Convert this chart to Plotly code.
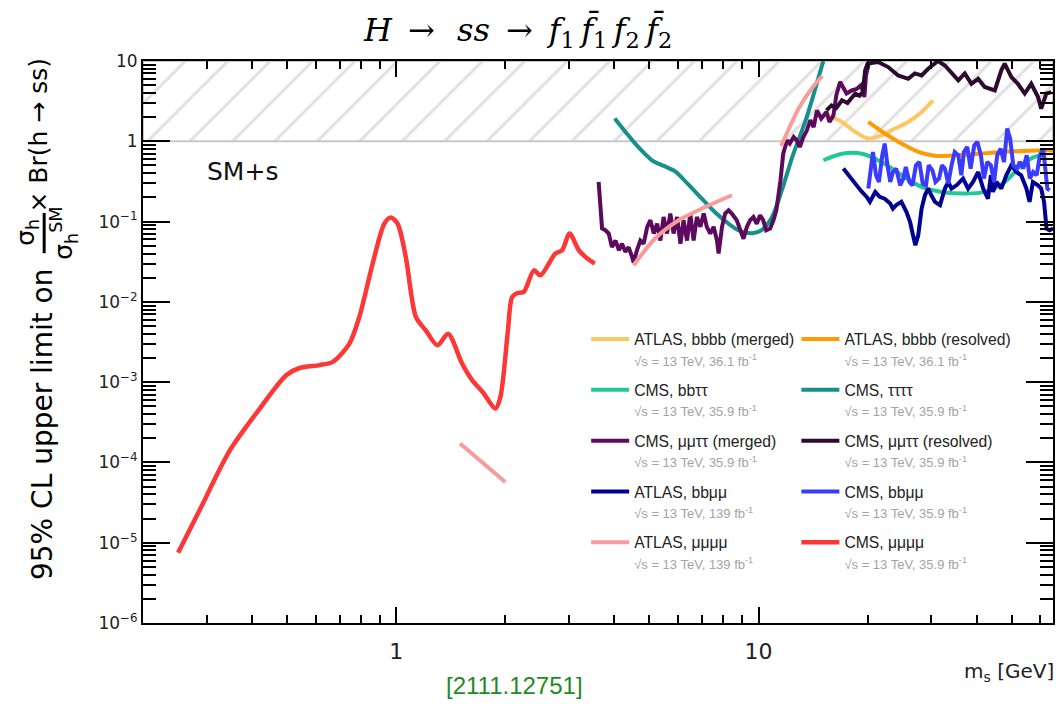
import plotly.graph_objects as go

# ---------------- 95% CL upper limits on sigma_h/sigma_h^SM x Br(h->ss) vs m_s [GeV] ----------------

# CMS, mu mu mu mu (35.9 fb^-1)
cms_4mu_m = [0.25, 0.286, 0.347, 0.411, 0.497, 0.541, 0.614, 0.668, 0.742, 0.791, 0.861, 0.927,
             0.967, 1.009, 1.063, 1.133, 1.207, 1.30, 1.39, 1.52, 1.62, 1.73, 1.88, 1.94, 2.03, 2.09,
             2.16, 2.25, 2.40, 2.50, 2.75, 2.87, 3.01, 3.19, 3.37, 3.53]
cms_4mu_v = [7.5e-6, 2.5e-5, 1.4e-4, 4.1e-4, 1.22e-3, 1.5e-3, 1.63e-3, 1.79e-3, 3.0e-3, 6.5e-3,
             0.030, 0.094, 0.112, 0.094, 0.036, 6.5e-3, 4.4e-3, 2.88e-3, 4.0e-3, 1.7e-3, 1.06e-3,
             7.6e-4, 4.7e-4, 6.6e-4, 4.0e-3, 0.0115, 0.0129, 0.0133, 0.0247, 0.0214, 0.040, 0.044,
             0.071, 0.044, 0.0346, 0.030]

# ATLAS, mu mu mu mu (139 fb^-1) -- three separate mass windows
atlas_4mu_m = [1.50, 2.00, None, 4.52, 5.19, 6.02, 7.13, 8.44, None, 11.55, 12.9, 14.0, 15.0]
atlas_4mu_v = [1.72e-4, 5.7e-5, None, 0.0286, 0.062, 0.104, 0.152, 0.213, None, 0.875, 2.55, 4.5, 6.5]

# CMS, tau tau tau tau (35.9 fb^-1)
cms_4tau_m = [4.01, 4.3, 4.6, 5.08, 5.5, 5.9, 6.4, 7.0, 7.6, 8.27, 8.8, 9.19, 9.7, 10.2, 10.9, 11.6,
              12.4, 13.5, 14.3, 15.1]
cms_4tau_v = [1.92, 1.3, 0.9, 0.58, 0.49, 0.42, 0.29, 0.19, 0.13, 0.094, 0.078, 0.073, 0.072, 0.078,
              0.114, 0.245, 0.64, 1.83, 4.3, 10.0]

# CMS, mu mu tau tau merged (35.9 fb^-1)
cms_mmtt_merged_m = [3.62, 3.66, 3.70, 3.78, 3.86, 3.94, 4.03, 4.12, 4.20, 4.29, 4.38, 4.48, 4.52, 4.62,
                     4.72, 4.82, 4.93, 5.03, 5.14, 5.25, 5.36, 5.47, 5.59, 5.71, 5.83, 5.96, 6.09, 6.21,
                     6.35, 6.48, 6.62, 6.76, 6.91, 7.06, 7.20, 7.36, 7.52, 7.68, 7.76, 7.93, 8.09, 8.27,
                     8.44, 8.71, 8.91, 9.09, 9.29, 9.48, 9.68, 9.89, 10.1, 10.3, 10.5, 10.77, 11.0, 11.2,
                     11.5, 11.7, 12.0, 12.2, 12.5, 12.75, 13.0, 13.3, 13.6, 13.9, 14.2, 14.5, 14.9, 15.4,
                     15.7, 16.1, 16.4, 16.8, 17.1, 17.5, 18.1, 18.7, 19.2, 19.6, 19.8, 20.2]
cms_mmtt_merged_v = [0.311, 0.138, 0.082, 0.078, 0.071, 0.048, 0.058, 0.044, 0.053, 0.042, 0.048, 0.036,
                     0.031, 0.044, 0.058, 0.053, 0.086, 0.104, 0.071, 0.094, 0.058, 0.114, 0.071, 0.126,
                     0.071, 0.114, 0.053, 0.104, 0.058, 0.126, 0.058, 0.114, 0.086, 0.126, 0.086, 0.071,
                     0.086, 0.058, 0.040, 0.086, 0.126, 0.138, 0.126, 0.104, 0.078, 0.061, 0.086, 0.104,
                     0.114, 0.094, 0.12, 0.104, 0.078, 0.082, 0.104, 0.138, 0.327, 0.70, 1.03, 0.94,
                     1.13, 1.03, 0.85, 1.13, 1.37, 1.83, 1.5, 2.43, 1.92, 2.32, 1.74, 2.1, 3.74, 5.5,
                     4.75, 3.93, 4.3, 4.5, 5.0, 3.56, 6.6, 9.7]

# CMS, mu mu tau tau resolved (35.9 fb^-1)
cms_mmtt_resolved_m = [15.4, 15.9, 16.4, 17.0, 17.6, 18.5, 19.0, 19.4, 19.7, 20.0, 21.4, 22.8, 24.3,
                       25.9, 27.0, 28.2, 29.4, 30.7, 31.3, 32.7, 34.1, 35.6, 37.1, 38.7, 40.4, 42.1,
                       44.9, 46.8, 47.8, 49.9, 52.0, 54.3, 56.6, 59.1, 60.3, 62.3, 64.3]
cms_mmtt_resolved_v = [2.43, 2.8, 2.6, 3.24, 3.0, 3.93, 3.7, 4.1, 7.66, 9.3, 9.7, 8.4, 6.6, 6.0, 7.0,
                       6.6, 8.0, 9.3, 10.0, 8.8, 7.0, 5.75, 7.0, 5.2, 6.0, 4.75, 4.3, 7.66, 9.3, 6.3,
                       5.2, 3.93, 5.2, 3.56, 2.55, 3.93, 4.1]

# ATLAS, bbbb merged / resolved (36.1 fb^-1)
atlas_4b_merged_m = [15.6, 17.0, 18.5, 20.1, 21.9, 23.8, 25.9, 28.2, 30.3]
atlas_4b_merged_v = [2.1, 1.74, 1.31, 1.08, 1.19, 1.44, 1.74, 2.32, 3.24]
atlas_4b_resolved_m = [20.1, 22.3, 24.8, 27.6, 30.7, 35.4, 44.0, 51.0, 60.3, 65.0]
atlas_4b_resolved_v = [1.74, 1.25, 0.94, 0.74, 0.66, 0.67, 0.72, 0.75, 0.77, 0.77]

# CMS, bb tau tau (35.9 fb^-1)
cms_bbtt_m = [15.1, 17.0, 19.3, 21.9, 24.8, 28.2, 32.0, 37.1, 42.1, 47.8, 53.1, 57.8, 61.6]
cms_bbtt_v = [0.58, 0.70, 0.70, 0.55, 0.38, 0.27, 0.234, 0.223, 0.234, 0.31, 0.50, 0.64, 0.67]

# ATLAS, bb mu mu (139 fb^-1)
atlas_bbmm_m = [17.15, 17.7, 18.5, 19.3, 19.9, 20.3, 21.0, 21.6, 22.3, 23.1, 23.5, 24.0, 24.8, 25.6,
                26.2, 26.7, 27.1, 27.6, 28.2, 28.8, 29.4, 30.0, 30.7, 31.7, 32.7, 33.4, 34.1, 35.2,
                35.9, 36.7, 37.9, 39.1, 40.4, 41.7, 43.0, 43.8, 44.4, 45.4, 46.8, 48.3, 49.9, 51.5,
                53.1, 54.9, 56.0, 57.2, 59.1, 60.3, 61.4, 61.9, 62.4, 63.6, 65.0]
atlas_bbmm_v = [0.457, 0.377, 0.297, 0.234, 0.203, 0.176, 0.234, 0.203, 0.193, 0.168, 0.145, 0.16,
                0.176, 0.132, 0.099, 0.0675, 0.0507, 0.0675, 0.145, 0.2125, 0.2575, 0.2125, 0.176,
                0.16, 0.2575, 0.311, 0.2575, 0.283, 0.311, 0.343, 0.2575, 0.311, 0.415, 0.2575, 0.193,
                0.377, 0.234, 0.311, 0.2575, 0.377, 0.502, 0.415, 0.377, 0.2575, 0.176, 0.311, 0.283,
                0.2575, 0.176, 0.132, 0.0817, 0.078, 0.0817]

# CMS, bb mu mu (35.9 fb^-1)
cms_bbmm_m = [20.1, 20.4, 20.7, 21.1, 21.5, 21.96, 22.3, 22.7, 23.1, 23.5, 24.0, 24.6, 25.1, 25.5,
              26.1, 26.6, 27.2, 27.8, 28.4, 29.0, 29.5, 30.2, 30.8, 31.5, 32.1, 32.7, 33.4, 34.1,
              34.8, 35.6, 36.3, 36.9, 37.7, 38.5, 39.4, 40.2, 41.1, 41.9, 42.8, 43.8, 44.7, 45.6,
              46.6, 47.6, 48.6, 49.5, 50.5, 51.6, 52.7, 53.8, 55.0, 56.1, 57.3, 58.6, 59.8, 61.1,
              61.9, 62.7, 63.6]
cms_bbmm_v = [0.2575, 0.502, 0.737, 0.377, 0.311, 0.67, 0.935, 0.502, 0.311, 0.415, 0.457, 0.283,
              0.343, 0.479, 0.311, 0.283, 0.502, 0.553, 0.297, 0.283, 0.502, 0.435, 0.311, 0.343,
              0.502, 0.457, 0.297, 0.502, 0.737, 0.67, 0.377, 0.737, 0.85, 0.457, 0.89, 0.98, 0.67,
              0.343, 0.553, 0.502, 0.311, 0.67, 0.81, 0.553, 1.44, 1.08, 0.502, 0.457, 0.553, 0.457,
              0.67, 0.343, 0.415, 0.377, 0.67, 0.81, 0.502, 0.2575, 0.245]

# Region excluded by the SM Higgs rate (ratio > 1)
band_m = [0.2, 65.0, 65.0, 0.2, 0.2]
band_v = [1.0, 1.0, 10.0, 10.0, 1.0]

y_tickvals = [1e-6, 1e-5, 1e-4, 1e-3, 1e-2, 1e-1, 1, 10]
y_ticktext = ["10<sup>−6</sup>", "10<sup>−5</sup>", "10<sup>−4</sup>", "10<sup>−3</sup>",
              "10<sup>−2</sup>", "10<sup>−1</sup>", "1", "10"]
x_tickvals = [1, 10]
x_ticktext = ["1", "10"]
# minor ticks at 2..9 within every decade
y_minor = [k * 10.0 ** e for e in range(-6, 1) for k in range(2, 10)]
x_minor = [k * 10.0 ** e for e in range(-1, 2) for k in range(2, 10)]

SUB = "<br><span style='font-size:13px;color:#a3a3a3'>√s = 13 TeV, {} fb<sup>-1</sup></span>"

# (name, lumi, x, y, colour, width, shape, legend, rank)
series = [
    ("ATLAS, bbbb (merged)", "36.1", atlas_4b_merged_m, atlas_4b_merged_v, "#fdc862", 4, "spline", "legend", 1),
    ("ATLAS, bbbb (resolved)", "36.1", atlas_4b_resolved_m, atlas_4b_resolved_v, "#ff9a00", 4, "spline", "legend2", 1),
    ("CMS, bbττ", "35.9", cms_bbtt_m, cms_bbtt_v, "#1fc995", 4, "spline", "legend", 2),
    ("CMS, ττττ", "35.9", cms_4tau_m, cms_4tau_v, "#178f8c", 4, "spline", "legend2", 2),
    ("CMS, μμττ (merged)", "35.9", cms_mmtt_merged_m, cms_mmtt_merged_v, "#5c0a5e", 4, "linear", "legend", 3),
    ("CMS, μμττ (resolved)", "35.9", cms_mmtt_resolved_m, cms_mmtt_resolved_v, "#2e0a31", 4, "linear", "legend2", 3),
    ("ATLAS, bbμμ", "139", atlas_bbmm_m, atlas_bbmm_v, "#000092", 4, "linear", "legend", 4),
    ("CMS, bbμμ", "35.9", cms_bbmm_m, cms_bbmm_v, "#3b3bff", 4, "linear", "legend2", 4),
    ("ATLAS, μμμμ", "139", atlas_4mu_m, atlas_4mu_v, "#f89b9b", 4, "spline", "legend", 5),
    ("CMS, μμμμ", "35.9", cms_4mu_m, cms_4mu_v, "#fd3636", 4.5, "spline", "legend2", 5),
]

fig = go.Figure()

# hatched exclusion band
fig.add_trace(go.Scatter(
    x=band_m, y=band_v, mode="lines", fill="toself", fillcolor="white",
    fillpattern=dict(shape="/", fgcolor="#c4c4c4", bgcolor="white", size=30, solidity=0.1),
    line=dict(color="#c8c8c8", width=2), showlegend=False, hoverinfo="skip"))

for name, lumi, xs, ys, col, w, shp, leg, rank in series:
    fig.add_trace(go.Scatter(
        x=xs, y=ys, mode="lines", name=name + SUB.format(lumi),
        line=dict(color=col, width=w, shape=shp, smoothing=0.8 if shp == "spline" else None),
        connectgaps=False, legend=leg, legendrank=rank, legendgroup=name))

leg_common = dict(yanchor="top", xanchor="left", bgcolor="rgba(0,0,0,0)", borderwidth=0,
                  font=dict(family="Liberation Sans", size=15.7, color="#222222"),
                  tracegroupgap=7, valign="top", itemwidth=38)

fig.update_layout(
    width=1059, height=704,
    margin=dict(l=143, r=4, t=61, b=81),
    plot_bgcolor="white", paper_bgcolor="white",
    showlegend=True,
    legend=dict(x=0.487, y=0.535, **leg_common),
    legend2=dict(x=0.718, y=0.535, **leg_common),
    xaxis=dict(type="log", range=[-0.69897, 1.81291], showgrid=False, zeroline=False,
               showline=True, linecolor="black", linewidth=2, mirror="ticks",
               ticks="inside", ticklen=16, tickwidth=1.5, tickcolor="black",
               tickmode="array", tickvals=x_tickvals, ticktext=x_ticktext,
               tickfont=dict(family="DejaVu Sans", size=22, color="#222222"),
               ticklabelstandoff=8,
               minor=dict(ticks="inside", ticklen=8, tickwidth=1.5, tickcolor="black",
                          tickmode="array", tickvals=x_minor, showgrid=False)),
    yaxis=dict(type="log", range=[-6, 1], showgrid=False, zeroline=False,
               showline=True, linecolor="black", linewidth=2, mirror="ticks",
               ticks="inside", ticklen=27, tickwidth=1.5, tickcolor="black",
               tickmode="array", tickvals=y_tickvals, ticktext=y_ticktext,
               tickfont=dict(family="DejaVu Sans", size=17, color="#222222"),
               minor=dict(ticks="inside", ticklen=13, tickwidth=1.5, tickcolor="black",
                          tickmode="array", tickvals=y_minor, showgrid=False)),
)

txt = dict(showarrow=False, xref="paper", yref="paper")
# title
fig.add_annotation(
    text=("<i>H</i>\u2002→\u2002\u2009<i>ss</i>\u2002→\u2002<i>f</i><sub>1</sub>\u2009<i>f̄</i><sub>1</sub>"
          "\u2009<i>f</i><sub>2</sub>\u2009<i>f̄</i><sub>2</sub>"),
    x=0.411, y=1.052, xanchor="center", yanchor="middle",
    font=dict(family="DejaVu Serif", size=32, color="black"), **txt)
# y-axis title, built from rotated pieces around the fraction
yfont = dict(family="DejaVu Sans", size=25, color="black")
fig.add_annotation(text="95% CL upper limit on", x=-0.111, y=0.354, textangle=-90,
                   xanchor="center", yanchor="middle",
                   font=dict(family="DejaVu Sans", size=28, color="black"), **txt)
fig.add_annotation(text="σ<sub>h</sub>", x=-0.127, y=0.695, textangle=-90,
                   xanchor="center", yanchor="middle", font=yfont, **txt)
fig.add_annotation(text="σ<sub>h</sub><sup>SM</sup>", x=-0.087, y=0.694, textangle=-90,
                   xanchor="center", yanchor="middle", font=yfont, **txt)
fig.add_shape(type="line", xref="paper", yref="paper", x0=-0.1086, x1=-0.1086, y0=0.658, y1=0.7295,
              line=dict(color="black", width=3))
fig.add_annotation(text="× Br(h → ss)", x=-0.115, y=0.868, textangle=-90,
                   xanchor="center", yanchor="middle", font=yfont, **txt)
# x-axis title
fig.add_annotation(text="m<sub>s</sub> [GeV]", x=1.003, y=-0.087, xanchor="right", yanchor="middle",
                   font=dict(family="DejaVu Sans", size=20, color="#222222"), **txt)
# model label
fig.add_annotation(text="SM+s", x=0.068, y=0.8025, xanchor="left", yanchor="middle",
                   font=dict(family="DejaVu Sans", size=25, color="#111111"), **txt)
# reference
fig.add_annotation(text="[2111.12751]", x=0.408, y=-0.112, xanchor="center", yanchor="middle",
                   font=dict(family="Liberation Sans", size=24, color="#1f8a1f"), **txt)

fig.write_html("out.html")
